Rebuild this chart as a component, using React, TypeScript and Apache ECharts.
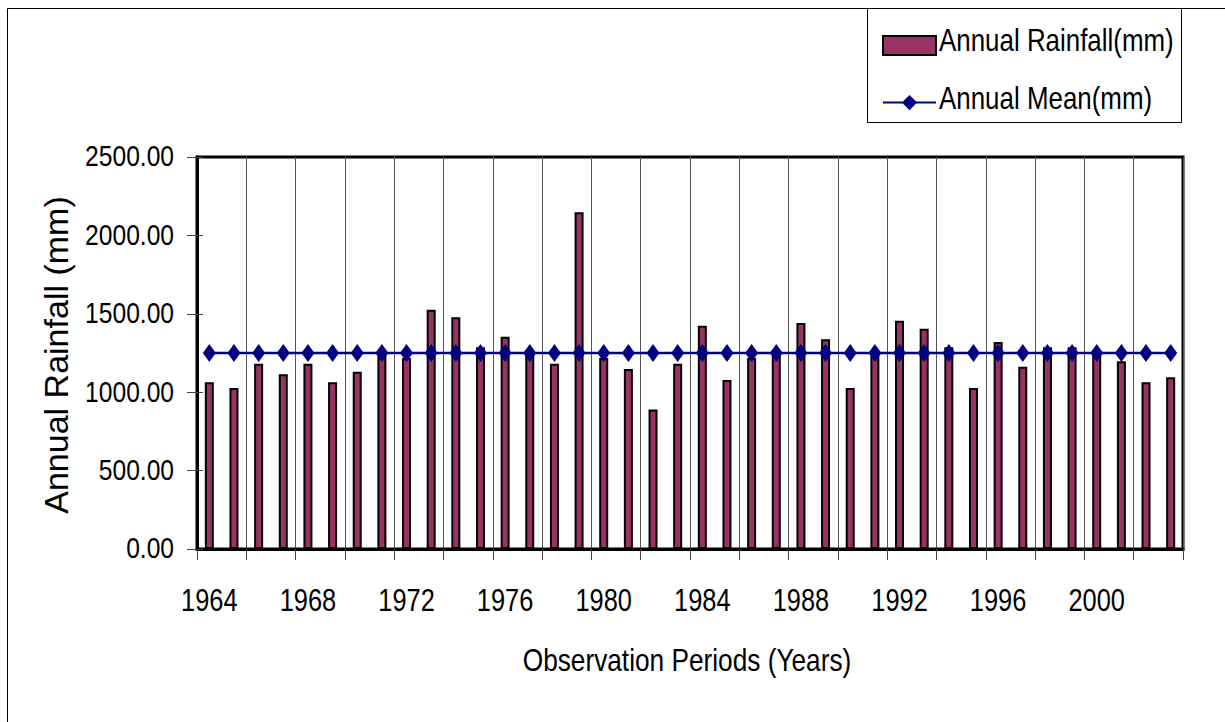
import React, { useEffect, useRef } from "react";
import * as echarts from "echarts";

const years = [
  "1964", "1965", "1966", "1967", "1968", "1969", "1970", "1971", "1972", "1973",
  "1974", "1975", "1976", "1977", "1978", "1979", "1980", "1981", "1982", "1983",
  "1984", "1985", "1986", "1987", "1988", "1989", "1990", "1991", "1992", "1993",
  "1994", "1995", "1996", "1997", "1998", "1999", "2000", "2001", "2002", "2003",
];

const rainfall = [
  1063, 1027, 1182, 1114, 1182, 1063, 1131, 1250, 1218, 1526,
  1478, 1286, 1354, 1269, 1182, 2147, 1218, 1148, 889, 1182,
  1424, 1078, 1218, 1240, 1441, 1337, 1027, 1265, 1456, 1405,
  1286, 1027, 1320, 1163, 1286, 1286, 1269, 1197, 1063, 1095,
];

const annualMean = [
  1250, 1250, 1250, 1250, 1250, 1250, 1250, 1250, 1250, 1250,
  1250, 1250, 1250, 1250, 1250, 1250, 1250, 1250, 1250, 1250,
  1250, 1250, 1250, 1250, 1250, 1250, 1250, 1250, 1250, 1250,
  1250, 1250, 1250, 1250, 1250, 1250, 1250, 1250, 1250, 1250,
];

const yTicks = [0, 500, 1000, 1500, 2000, 2500];
const xTickLabels = ["1964", "1968", "1972", "1976", "1980", "1984", "1988", "1992", "1996", "2000"];

const seriesNames = ["Annual Rainfall(mm)", "Annual Mean(mm)"];
const xTitle = "Observation Periods (Years)";
const yTitle = "Annual Rainfall (mm)";

const FONT = "'Liberation Sans', Arial, sans-serif";
const NARROW_SCALE = 0.82;

export default function App() {
  const ref = useRef<HTMLDivElement>(null);

  useEffect(() => {
    if (!ref.current) return;
    const chart = echarts.init(ref.current, null, { renderer: "svg" });
    const gridLeft = 197;
    const gridTop = 157;
    const gridWidth = 986;
    const gridHeight = 392;

    chart.setOption({
      animation: false,
      backgroundColor: "#fff",
      legend: {
        orient: "vertical",
        left: 877,
        top: 30,
        itemWidth: 53,
        itemHeight: 19,
        itemGap: 39,
        formatter: () => "",
        textStyle: { fontSize: 12, lineHeight: 19, color: "#000" },
        data: [
          { name: seriesNames[0], icon: "rect" },
          { name: seriesNames[1] },
        ],
        z: 10,
      },
      grid: {
        left: gridLeft,
        top: gridTop,
        width: gridWidth,
        height: gridHeight,
        show: true,
        borderColor: "#000",
        borderWidth: 3,
        containLabel: false,
      },
      xAxis: {
        type: "category",
        data: years,
        boundaryGap: true,
        axisLine: { show: true, lineStyle: { color: "#000", width: 3 } },
        axisTick: { show: true, interval: 1, length: 11, lineStyle: { color: "#444", width: 1 } },
        axisLabel: { show: false, interval: 3 },
        splitLine: { show: true, interval: 1, lineStyle: { color: "#555", width: 1 } },
      },
      yAxis: [
        {
          type: "value",
          min: yTicks[0],
          max: yTicks[yTicks.length - 1],
          interval: 500,
          axisLine: { show: true, lineStyle: { color: "#000", width: 3 } },
          axisTick: { show: true, length: 10, lineStyle: { color: "#444", width: 1 } },
          axisLabel: { show: false },
          splitLine: { show: false },
        },
        {
          type: "value",
          position: "left",
          min: yTicks[0],
          max: yTicks[yTicks.length - 1],
          interval: 500,
          axisLine: { show: false },
          axisTick: { show: true, inside: true, length: 6, lineStyle: { color: "#444", width: 1 } },
          axisLabel: { show: false },
          splitLine: { show: false },
        },
      ],
      series: [
        {
          name: seriesNames[0],
          type: "bar",
          data: rainfall,
          barWidth: 9,
          itemStyle: { color: "#993366", borderColor: "#000", borderWidth: 2 },
          z: 2,
        },
        {
          name: seriesNames[1],
          type: "line",
          data: annualMean,
          symbol: "diamond",
          symbolSize: [13, 18],
          showSymbol: true,
          showAllSymbol: true,
          lineStyle: { color: "#000080", width: 2.5 },
          itemStyle: { color: "#000080" },
          z: 3,
        },
      ],
    });

    const graphics: any[] = [
      {
        type: "line",
        shape: { x1: 7.5, y1: 8.5, x2: 7.5, y2: 722 },
        style: { stroke: "#000", lineWidth: 1 },
        silent: true,
      },
      {
        type: "line",
        shape: { x1: 7.5, y1: 8.5, x2: 1225, y2: 8.5 },
        style: { stroke: "#000", lineWidth: 1 },
        silent: true,
      },
      {
        type: "rect",
        shape: { x: 867.5, y: 8.5, width: 314, height: 114 },
        style: { fill: "#fff", stroke: "#000", lineWidth: 1 },
        z: 0,
        silent: true,
      },
    ];

    // x tick labels
    xTickLabels.forEach((label) => {
      const px = chart.convertToPixel({ xAxisIndex: 0 }, label) as number;
      graphics.push({
        type: "text",
        x: px,
        y: 600,
        scaleX: NARROW_SCALE,
        silent: true,
        style: {
          text: label,
          fontFamily: FONT,
          fontSize: 31,
          fill: "#000",
          textAlign: "center",
          textVerticalAlign: "middle",
        },
      });
    });

    // y tick labels
    yTicks.forEach((v) => {
      const py = chart.convertToPixel({ yAxisIndex: 0 }, v) as number;
      graphics.push({
        type: "text",
        x: gridLeft - 23,
        y: py - 1,
        scaleX: NARROW_SCALE,
        silent: true,
        style: {
          text: v.toFixed(2),
          fontFamily: FONT,
          fontSize: 30,
          fill: "#000",
          textAlign: "right",
          textVerticalAlign: "middle",
        },
      });
    });

    // axis titles
    graphics.push({
      type: "text",
      x: gridLeft + gridWidth / 2 - 3,
      y: 660,
      scaleX: NARROW_SCALE,
      silent: true,
      style: {
        text: xTitle,
        fontFamily: FONT,
        fontSize: 32,
        fill: "#000",
        textAlign: "center",
        textVerticalAlign: "middle",
      },
    });
    graphics.push({
      type: "text",
      x: 56,
      y: gridTop + gridHeight / 2 + 2,
      rotation: Math.PI / 2,
      silent: true,
      style: {
        text: yTitle,
        fontFamily: FONT,
        fontSize: 34,
        fill: "#000",
        textAlign: "center",
        textVerticalAlign: "middle",
      },
    });

    // legend texts
    [40, 98].forEach((cy, i) => {
      graphics.push({
        type: "text",
        x: 939,
        y: cy,
        scaleX: 0.81,
        silent: true,
        z: 11,
        style: {
          text: seriesNames[i],
          fontFamily: FONT,
          fontSize: 32,
          fill: "#000",
          textAlign: "left",
          textVerticalAlign: "middle",
        },
      });
    });

    chart.setOption({ graphic: graphics });

    return () => chart.dispose();
  }, []);

  return (
    <div
      ref={ref}
      style={{ position: "absolute", left: 0, top: 0, width: 1225, height: 722 }}
    />
  );
}
